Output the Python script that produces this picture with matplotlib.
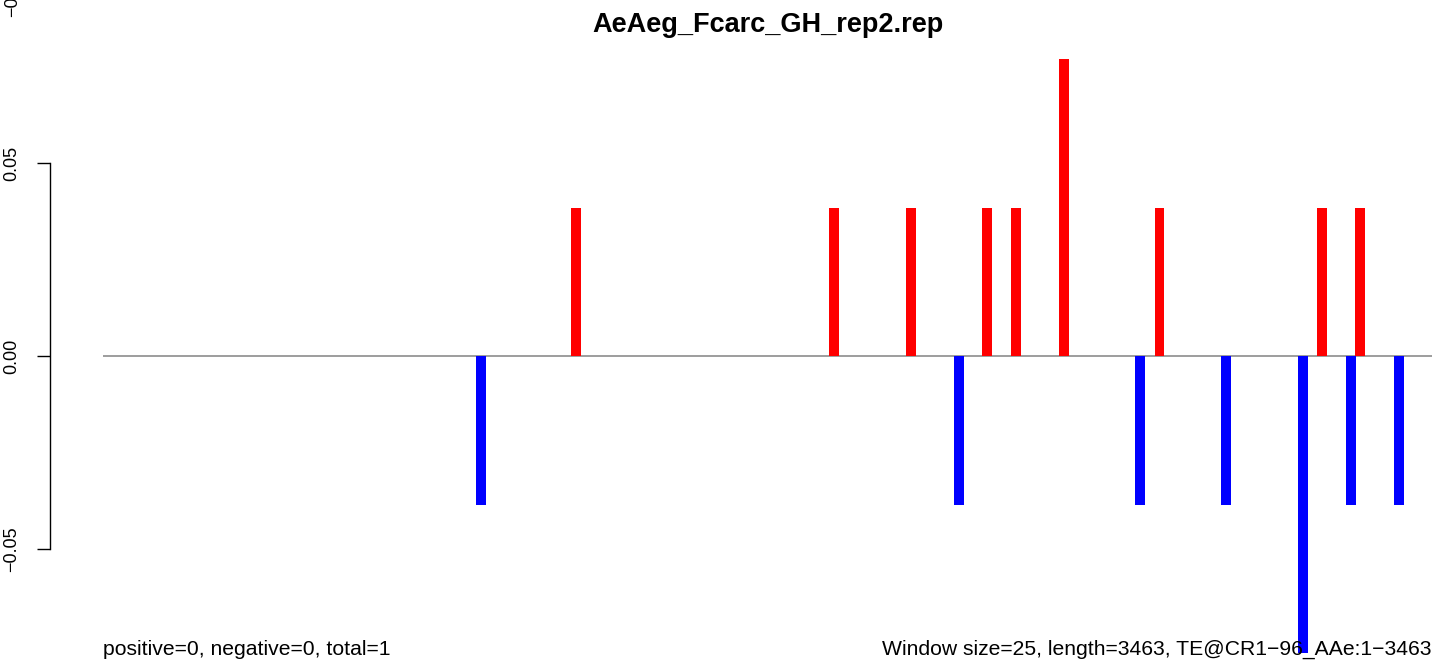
import matplotlib
matplotlib.use("Agg")
import matplotlib.pyplot as plt
import numpy as np

plt.rcParams["font.family"] = ["Liberation Sans", "DejaVu Sans"]

title = "AeAeg_Fcarc_GH_rep2.rep"
n_windows = 139  # length 3463 / window 25

# windows carrying a hit, and the per-window score
pos_windows = [49, 76, 84, 92, 95, 100, 110, 127, 131]
pos_values = [1/26, 1/26, 1/26, 1/26, 1/26, 2/26, 1/26, 1/26, 1/26]
neg_windows = [39, 89, 108, 117, 125, 130, 135]
neg_values = [-1/26, -1/26, -1/26, -1/26, -2/26, -1/26, -1/26]

yticks = [-0.05, 0.0, 0.05]
left_note = "positive=0, negative=0, total=1"
right_note = "Window size=25, length=3463, TE@CR1\u221296_AAe:1\u22123463"

W, H = 1444, 667
fig = plt.figure(figsize=(W / 100, H / 100), dpi=100)
ax = fig.add_axes([103 / W, 1 - 653 / H, (1432 - 103) / W, (653 - 59) / H])

x_pos = np.array(pos_windows) + 0.5
x_neg = np.array(neg_windows) + 0.5
ax.axhline(0, color="#8c8c8c", lw=1.2, zorder=1)
ax.bar(x_pos, pos_values, width=1.04, color="#ff0000", zorder=2)
ax.bar(x_neg, neg_values, width=1.04, color="#0000ff", zorder=2)

ax.set_xlim(0, n_windows)
ax.set_ylim(-2 / 26, 2 / 26)

for s in ["top", "right", "bottom"]:
    ax.spines[s].set_visible(False)
ax.spines["left"].set_position(("outward", 38))
ax.spines["left"].set_bounds(-0.05, 0.05)
ax.spines["left"].set_linewidth(1.0)
ax.set_xticks([])
ax.set_yticks(yticks)
ax.set_yticklabels(["\u22120.05", "0.00", "0.05"])
ax.tick_params(axis="y", length=9.5, width=1.0, pad=12, labelsize=13)
for lab in ax.get_yticklabels():
    lab.set_rotation(90)
    lab.set_va("center")
    lab.set_ha("right")

# label of the next tick up, mostly cut off at the top edge
fig.text(12.5 / W, 1 - 17 / H, "\u22120.10", rotation=90, ha="center", va="bottom",
         fontsize=13)

fig.text(767.5 / W, 1 - 25 / H, title, ha="center", va="center",
         fontsize=19.5, fontweight="bold")
fig.text(103 / W, 1 - 655 / H, left_note, ha="left", va="baseline", fontsize=15.2)
fig.text(1432 / W, 1 - 655 / H, right_note, ha="right", va="baseline", fontsize=15.2)

fig.savefig("out.png", dpi=100)
